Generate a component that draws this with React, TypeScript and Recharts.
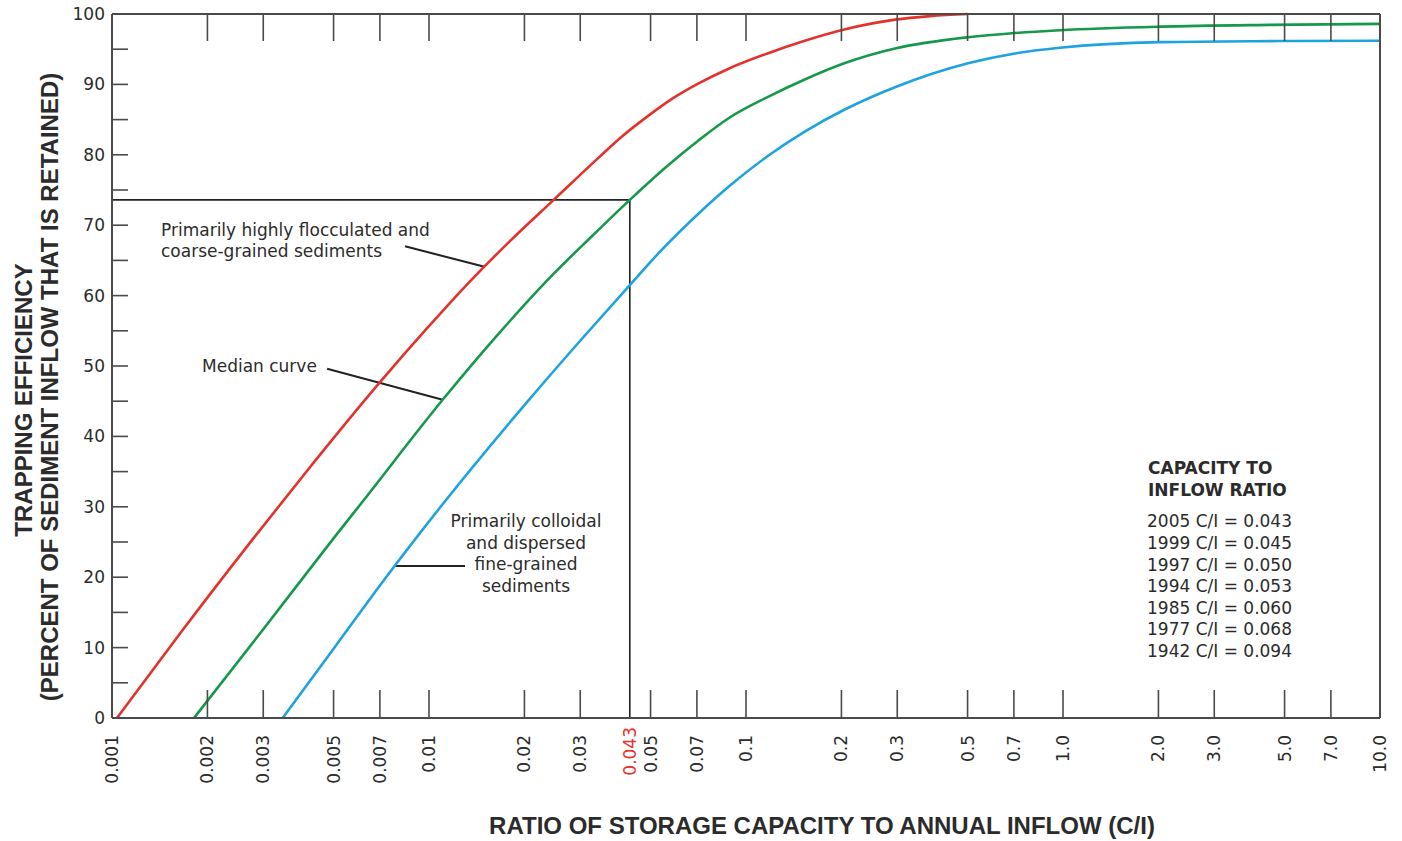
import React from 'react';
import { LineChart, Line, XAxis, YAxis, ReferenceLine } from 'recharts';

// ---- tick values / labels ----
const xTicks = [0.001, 0.002, 0.003, 0.005, 0.007, 0.01, 0.02, 0.03, 0.043, 0.05, 0.07, 0.1, 0.2, 0.3, 0.5, 0.7, 1, 2, 3, 5, 7, 10];
const xTickLabels = ['0.001', '0.002', '0.003', '0.005', '0.007', '0.01', '0.02', '0.03', '0.043', '0.05', '0.07', '0.1', '0.2', '0.3', '0.5', '0.7', '1.0', '2.0', '3.0', '5.0', '7.0', '10.0'];
const highlightTick = 0.043;
const yTicks = [0, 5, 10, 15, 20, 25, 30, 35, 40, 45, 50, 55, 60, 65, 70, 75, 80, 85, 90, 95, 100];

// ---- curves: ratio C/I vs trapping efficiency (%) ----
const coarseX = [0.001037, 0.001639, 0.002769, 0.004055, 0.006974, 0.009881, 0.013589, 0.017865, 0.024738, 0.034303, 0.040616, 0.049377, 0.058252, 0.070628, 0.088839, 0.1169, 0.15322, 0.20415, 0.2951, 0.3806, 0.5];
const coarseY = [0, 12.0, 25.3, 34.7, 47.6, 55.4, 62.2, 67.6, 73.6, 79.6, 82.6, 85.6, 87.9, 90.1, 92.3, 94.4, 96.2, 97.8, 99.2, 99.7, 100];

const medianX = [0.0018145, 0.0029883, 0.004956, 0.0062387, 0.011043, 0.01659, 0.023638, 0.032587, 0.043, 0.055393, 0.070628, 0.088839, 0.1169, 0.15322, 0.20415, 0.29514, 0.50155, 0.70568, 0.97845, 2.0229, 4.4976, 10];
const medianY = [0, 12.5, 25.3, 31.0, 45.2, 54.6, 62.2, 68.4, 73.6, 78.1, 82.0, 85.3, 88.2, 90.7, 93.0, 95.1, 96.7, 97.3, 97.7, 98.2, 98.45, 98.6];

const fineX = [0.0034545, 0.0050676, 0.0071843, 0.01088, 0.020318, 0.030279, 0.043, 0.054212, 0.070628, 0.088839, 0.1169, 0.15322, 0.20415, 0.29514, 0.50155, 0.70568, 0.97845, 2.0229, 4.4976, 10];
const fineY = [0, 10.2, 19.5, 30.0, 44.8, 53.8, 61.5, 66.5, 71.6, 75.6, 79.8, 83.3, 86.4, 89.6, 93.0, 94.4, 95.2, 96.0, 96.15, 96.2];

// ---- 2005 reading ----
const readX = 0.043;
const readY = 73.6;
const xMin = 0.001;

// ---- legend table ----
const legendTitle = ['CAPACITY TO', 'INFLOW RATIO'];
const legendYears = ['2005', '1999', '1997', '1994', '1985', '1977', '1942'];
const legendRatios = ['0.043', '0.045', '0.050', '0.053', '0.060', '0.068', '0.094'];

// ---- annotation leader endpoints (data coords) ----
const coarseLeader = [{ x: 0.0084, y: 67.0 }, { x: 0.01496, y: 64.1 }];
const medianLeader = [{ x: 0.00477, y: 49.6 }, { x: 0.011043, y: 45.2 }];
const fineLeader = [{ x: 0.0078, y: 21.6 }, { x: 0.01299, y: 21.6 }];

const zip = (xs: number[], ys: number[]) => xs.map((x, i) => ({ x, y: ys[i] }));
const coarseData = zip(coarseX, coarseY);
const medianData = zip(medianX, medianY);
const fineData = zip(fineX, fineY);

const W = 1402;
const H = 841;
const TXT = '#2b2b2b';
const AX = '#4a4a4a';
const REG = '"DejaVu Sans", sans-serif';
const BOLD = '"Liberation Sans", Arial, sans-serif';

const BottomTick = (props: any) => {
  const { x, y, payload } = props;
  const v = payload.value;
  const idx = xTicks.indexOf(v);
  const label = xTickLabels[idx];
  const isEdge = idx === 0 || idx === xTicks.length - 1;
  const isHi = v === highlightTick;
  const tx = x + 6;
  const ty = y + (isHi ? 9 : 17);
  return (
    <g>
      {!isEdge && !isHi && <line x1={x} x2={x} y1={y} y2={y - 28} stroke={AX} strokeWidth={1.6} />}
      <text x={tx} y={ty} transform={`rotate(-90 ${tx} ${ty})`} textAnchor="end" fontSize={17} fontFamily={REG} fill={isHi ? '#e8322c' : TXT}>
        {label}
      </text>
    </g>
  );
};

const TopTick = (props: any) => {
  const { x, y, payload } = props;
  const v = payload.value;
  const idx = xTicks.indexOf(v);
  const isEdge = idx === 0 || idx === xTicks.length - 1;
  if (isEdge || v === highlightTick) return <g />;
  return <line x1={x} x2={x} y1={y} y2={y + 27} stroke={AX} strokeWidth={1.6} />;
};

const LeftTick = (props: any) => {
  const { x, y, payload } = props;
  const v = payload.value;
  return (
    <g>
      {v !== 0 && v !== 100 && <line x1={x} x2={x + 16} y1={y} y2={y} stroke={AX} strokeWidth={1.6} />}
      {v % 10 === 0 && (
        <text x={x - 7} y={y} dy={6} textAnchor="end" fontSize={17} fontFamily={REG} fill={TXT}>
          {v}
        </text>
      )}
    </g>
  );
};

const RightTick = (props: any) => {
  const { x, y, payload } = props;
  const v = payload.value;
  if (v === 0 || v === 100) return <g />;
  return <line x1={x} x2={x - 16} y1={y} y2={y} stroke={AX} strokeWidth={1.6} />;
};

export default function App() {
  return (
    <div style={{ position: 'absolute', left: 0, top: 0, width: W, height: H, background: '#fff', fontFamily: REG }}>
      <LineChart width={W} height={H} margin={{ top: 0, right: 0, bottom: 0, left: 0 }}>
        <XAxis
          xAxisId="bottom"
          dataKey="x"
          type="number"
          scale="log"
          domain={[0.001, 10]}
          allowDataOverflow
          ticks={xTicks}
          interval={0}
          height={123}
          tickSize={0}
          tickMargin={0}
          tickLine={false}
          tick={<BottomTick />}
          axisLine={{ stroke: AX, strokeWidth: 2 }}
        />
        <XAxis
          xAxisId="top"
          orientation="top"
          dataKey="x"
          type="number"
          scale="log"
          domain={[0.001, 10]}
          allowDataOverflow
          ticks={xTicks}
          interval={0}
          height={14}
          tickSize={0}
          tickMargin={0}
          tickLine={false}
          tick={<TopTick />}
          axisLine={{ stroke: AX, strokeWidth: 2 }}
        />
        <YAxis
          yAxisId="left"
          type="number"
          domain={[0, 100]}
          ticks={yTicks}
          interval={0}
          width={112}
          tickSize={0}
          tickMargin={0}
          tickLine={false}
          tick={<LeftTick />}
          axisLine={{ stroke: AX, strokeWidth: 2 }}
        />
        <YAxis
          yAxisId="right"
          orientation="right"
          type="number"
          domain={[0, 100]}
          ticks={yTicks}
          interval={0}
          width={22}
          tickSize={0}
          tickMargin={0}
          tickLine={false}
          tick={<RightTick />}
          axisLine={{ stroke: AX, strokeWidth: 2 }}
        />
        <ReferenceLine xAxisId="bottom" yAxisId="left" segment={[{ x: xMin, y: readY }, { x: readX, y: readY }]} stroke="#222" strokeWidth={1.6} />
        <ReferenceLine xAxisId="bottom" yAxisId="left" segment={[{ x: readX, y: 0 }, { x: readX, y: readY }]} stroke="#222" strokeWidth={1.6} />
        <ReferenceLine xAxisId="bottom" yAxisId="left" segment={coarseLeader} stroke="#222" strokeWidth={2} />
        <ReferenceLine xAxisId="bottom" yAxisId="left" segment={medianLeader} stroke="#222" strokeWidth={2} />
        <ReferenceLine xAxisId="bottom" yAxisId="left" segment={fineLeader} stroke="#222" strokeWidth={2} />
        <Line xAxisId="bottom" yAxisId="left" data={fineData} dataKey="y" type="monotone" stroke="#1ea2e0" strokeWidth={2.6} dot={false} isAnimationActive={false} />
        <Line xAxisId="bottom" yAxisId="left" data={medianData} dataKey="y" type="monotone" stroke="#16984a" strokeWidth={2.6} dot={false} isAnimationActive={false} />
        <Line xAxisId="bottom" yAxisId="left" data={coarseData} dataKey="y" type="monotone" stroke="#e3322b" strokeWidth={2.6} dot={false} isAnimationActive={false} />
      </LineChart>
      <svg width={W} height={H} style={{ position: 'absolute', left: 0, top: 0, pointerEvents: 'none' }}>
        <g fontFamily={REG} fontSize={17} fill={TXT}>
          <text x={161} y={236}>Primarily highly flocculated and</text>
          <text x={161} y={257}>coarse-grained sediments</text>
          <text x={202} y={372}>Median curve</text>
          <text x={526} y={527} textAnchor="middle">Primarily colloidal</text>
          <text x={526} y={548.5} textAnchor="middle">and dispersed</text>
          <text x={526} y={570} textAnchor="middle">fine-grained</text>
          <text x={526} y={591.5} textAnchor="middle">sediments</text>
          {legendTitle.map((t, i) => (
            <text key={t} x={1148} y={474 + i * 22} fontWeight="bold">{t}</text>
          ))}
          {legendYears.map((yr, i) => (
            <text key={yr} x={1147} y={527.3 + i * 21.6}>{`${yr} C/I = ${legendRatios[i]}`}</text>
          ))}
        </g>
        <g fontFamily={BOLD} fontSize={24} fontWeight="bold" fill={TXT}>
          <text x={822} y={834} textAnchor="middle">RATIO OF STORAGE CAPACITY TO ANNUAL INFLOW (C/I)</text>
          <text x={32} y={400} textAnchor="middle" transform="rotate(-90 32 400)">TRAPPING EFFICIENCY</text>
          <text x={58} y={387} textAnchor="middle" transform="rotate(-90 58 387)">(PERCENT OF SEDIMENT INFLOW THAT IS RETAINED)</text>
        </g>
      </svg>
    </div>
  );
}
